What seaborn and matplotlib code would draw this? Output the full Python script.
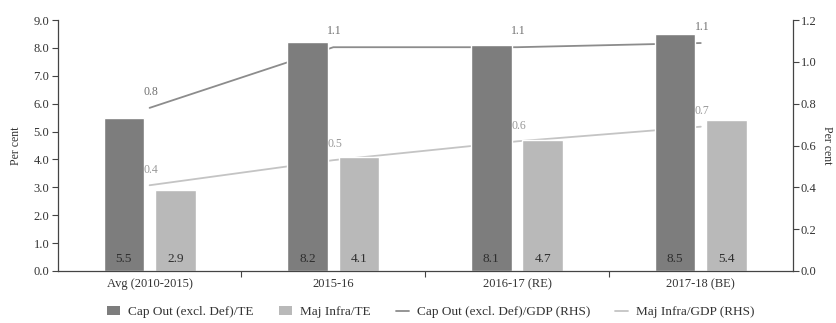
import matplotlib
matplotlib.use("Agg")
import matplotlib.pyplot as plt
from matplotlib.ticker import FixedLocator, FormatStrFormatter
from matplotlib.patches import Patch
from matplotlib.lines import Line2D
import seaborn as sns
import pandas as pd
import numpy as np

# Data
categories = ["Avg (2010-2015)", "2015-16", "2016-17 (RE)", "2017-18 (BE)"]
cap_out_te = [5.5, 8.2, 8.1, 8.5]          # Cap Out (excl. Def)/TE, per cent
maj_infra_te = [2.9, 4.1, 4.7, 5.4]        # Maj Infra/TE, per cent
cap_out_gdp = [0.78, 1.07, 1.07, 1.09]     # Cap Out (excl. Def)/GDP (RHS)
maj_infra_gdp = [0.41, 0.53, 0.62, 0.69]   # Maj Infra/GDP (RHS)

bar_names = ["Cap Out (excl. Def)/TE", "Maj Infra/TE"]
line_names = ["Cap Out (excl. Def)/GDP (RHS)", "Maj Infra/GDP (RHS)"]

bar_colors = ["#7d7d7d", "#b9b9b9"]
line_colors = ["#8c8c8c", "#c4c4c4"]
text_color = "#333333"

sns.set_theme(style="white")
plt.rcParams["font.family"] = ["Liberation Serif", "DejaVu Serif"]
plt.rcParams["font.size"] = 9

bars_df = pd.DataFrame({
    "category": categories * 2,
    "value": cap_out_te + maj_infra_te,
    "series": [bar_names[0]] * 4 + [bar_names[1]] * 4,
})

fig = plt.figure(figsize=(8.37, 3.23), dpi=100)
ax = fig.add_axes([0.069, 0.161, 0.878, 0.777])
ax2 = ax.twinx()

# Lines on the secondary axis, kept behind the bars
x_pos = np.arange(len(categories))
lines_df = pd.DataFrame({
    "x": np.concatenate([x_pos, x_pos]),
    "value": cap_out_gdp + maj_infra_gdp,
    "series": [line_names[0]] * 4 + [line_names[1]] * 4,
})
sns.lineplot(data=lines_df, x="x", y="value", hue="series",
             palette=line_colors, linewidth=1.3, ax=ax2, legend=False)

sns.barplot(data=bars_df, x="category", y="value", hue="series",
            palette=bar_colors, width=0.56, gap=0.21, saturation=1,
            ax=ax, legend=False)
ax.set_zorder(ax2.get_zorder() + 1)
ax.patch.set_visible(False)

# Axes limits and ticks
ax.set_xlim(-0.5, len(categories) - 0.5)
ax.set_ylim(0, 9)
ax2.set_ylim(0, 1.2)
ax.set_yticks(np.arange(0, 9.01, 1.0))
ax2.set_yticks(np.arange(0, 1.21, 0.2))
ax.yaxis.set_major_formatter(FormatStrFormatter("%.1f"))
ax2.yaxis.set_major_formatter(FormatStrFormatter("%.1f"))
ax.set_xlabel("")
ax2.set_xlabel("")
ax.set_ylabel("Per cent", fontsize=8.5, color=text_color, labelpad=8)
ax2.set_ylabel("Per cent", fontsize=8.5, color=text_color, rotation=270, labelpad=12)

ax.xaxis.set_minor_locator(FixedLocator([0.5, 1.5, 2.5]))
ax.tick_params(axis="x", which="major", length=0, labelsize=9,
               labelcolor=text_color, pad=5)
ax.tick_params(axis="x", which="minor", length=4, width=0.8,
               color="#444444", direction="out", bottom=True)
ax.tick_params(axis="y", which="major", length=4, width=0.8, direction="out",
               color="#444444", left=True, labelsize=9, labelcolor=text_color, pad=2)
ax2.tick_params(axis="y", which="major", length=4, width=0.8, direction="out",
                color="#444444", right=True, labelsize=9, labelcolor=text_color, pad=2)

for a in (ax, ax2):
    a.spines["top"].set_visible(False)
    for s in ("left", "right", "bottom"):
        a.spines[s].set_color("#444444")
        a.spines[s].set_linewidth(0.9)
ax.spines["right"].set_visible(False)
ax2.spines["left"].set_visible(False)
ax2.spines["bottom"].set_visible(False)

# Bar value labels near the base of each bar
for patch, val in zip(ax.patches, cap_out_te + maj_infra_te):
    cx = patch.get_x() + patch.get_width() / 2
    ax.text(cx, 0.2, f"{val:.1f}", ha="center", va="bottom",
            fontsize=9.5, color="#2e2e2e")

# Line value labels above each point
for series, col in zip((cap_out_gdp, maj_infra_gdp), ("#6f6f6f", "#999999")):
    for xi, v in zip(x_pos, series):
        ax.annotate(f"{v:.1f}", xy=(xi, v), xycoords=ax2.transData,
                    xytext=(1, 7), textcoords="offset points",
                    ha="center", va="bottom", fontsize=8.5, color=col)

# Legend
handles = [
    Patch(facecolor=bar_colors[0], edgecolor="none"),
    Patch(facecolor=bar_colors[1], edgecolor="none"),
    Line2D([0], [0], color=line_colors[0], lw=1.3),
    Line2D([0], [0], color=line_colors[1], lw=1.3),
]
fig.legend(handles, bar_names + line_names, loc="center", ncol=4,
           bbox_to_anchor=(0.515, 0.034), frameon=False, fontsize=9.5,
           handlelength=1.0, handleheight=0.6, columnspacing=1.9,
           handletextpad=0.6, labelcolor=text_color)

fig.savefig("out.png", dpi=100)
